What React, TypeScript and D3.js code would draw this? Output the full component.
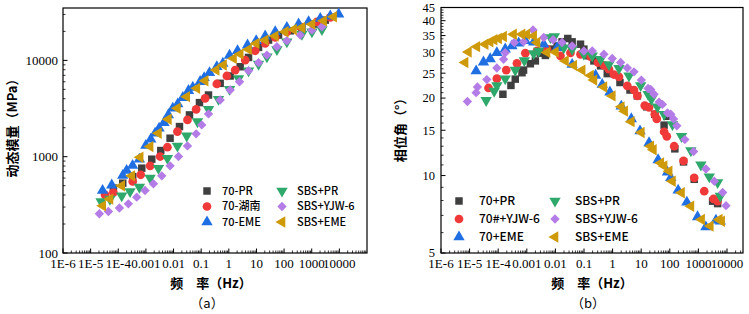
import React from 'react';
import * as d3 from 'd3';

// ---------- Panel (a): dynamic modulus (MPa) vs reduced frequency (Hz) ----------
const modPR_f = [6.65e-5, 1.45e-4, 3.33e-4, 7.1e-4, 1.63e-3, 3.45e-3, 7.5e-3, 0.0164, 0.0377, 0.0867, 0.184, 0.486, 1.12, 2.58, 5.17, 11.9, 27.4, 63, 167, 442, 1170, 3100];
const modPR_v = [472, 531, 622, 760, 942, 1159, 1556, 2055, 2716, 3643, 4370, 5780, 6890, 8590, 10730, 13650, 16250, 18320, 20280, 21970, 23800, 26200];
const modHN_f = [3.32e-5, 6.65e-5, 3.33e-4, 6.5e-4, 1.42e-3, 3.27e-3, 6.0e-3, 0.0138, 0.0319, 0.0658, 0.139, 0.368, 0.849, 1.7, 3.92, 9.0, 20.7, 47.8, 126, 385, 1545, 4700];
const modHN_v = [402, 425, 553, 649, 804, 1004, 1254, 1824, 2411, 3105, 4036, 5690, 6890, 7940, 10070, 12590, 15000, 17300, 19810, 22340, 25170, 27930];
const modEME_f = [2.7e-5, 5.8e-5, 1.45e-4, 2.0e-4, 3.3e-4, 5.8e-4, 9.9e-4, 1.5e-3, 2.15e-3, 3.0e-3, 4.5e-3, 6.5e-3, 9.4e-3, 0.0142, 0.0216, 0.0347, 0.0498, 0.0917, 0.128, 0.2, 0.368, 0.607, 1.06, 2.07, 4.75, 9.8, 20.7, 47.8, 126, 335, 771, 2040, 4700, 9420];
const modEME_v = [446, 507, 638, 719, 810, 942, 1306, 1518, 1753, 1974, 2259, 2716, 3184, 3530, 4106, 4853, 5250, 6010, 6610, 7450, 8590, 9310, 11270, 12590, 14410, 15980, 17870, 19810, 21970, 23800, 25170, 27240, 28800, 30190];
const modSPR_f = [2.38e-5, 5.0e-5, 1.33e-4, 2.67e-4, 5.8e-4, 1.42e-3, 2.84e-3, 6.0e-3, 0.0138, 0.030, 0.0734, 0.184, 0.423, 1.06, 2.24, 5.17, 11.9, 23.9, 55, 126, 442, 1018, 2340];
const modSPR_v = [343, 363, 393, 436, 483, 599, 760, 964, 1294, 1644, 2312, 3105, 3945, 5010, 6500, 7810, 9160, 10910, 13000, 15600, 18740, 19810, 20940];
const modSYJW_f = [2.07e-5, 4.39e-5, 1.1e-4, 2.32e-4, 4.66e-4, 9.3e-4, 1.87e-3, 3.75e-3, 7.5e-3, 0.0151, 0.0319, 0.0658, 0.105, 0.184, 0.486, 1.12, 2.44, 5.17, 11.9, 23.9, 55, 126, 385, 1018, 2340];
const modSYJW_v = [256, 270, 293, 324, 380, 446, 523, 633, 804, 1004, 1294, 1726, 2138, 2780, 3880, 4930, 6010, 7810, 9460, 11350, 13870, 15980, 18320, 20600, 22340];
const modSEME_f = [2.74e-5, 5.0e-5, 1.33e-4, 3.07e-4, 6.2e-4, 1.42e-3, 2.84e-3, 6.5e-3, 0.0138, 0.030, 0.0695, 0.139, 0.348, 0.643, 1.48, 2.58, 5.17, 9.8, 20.7, 47.8, 110, 220, 442, 1018, 2690, 6210];
const modSEME_v = [309, 363, 499, 633, 988, 1274, 1753, 2449, 3184, 4200, 5125, 6150, 7940, 8950, 10490, 11630, 13000, 15000, 16250, 17870, 19810, 20940, 21970, 23800, 25760, 28380];

// ---------- Panel (b): phase angle (°) vs reduced frequency (Hz) ----------
const phPR_f = [1.46e-4, 2.79e-4, 3.95e-4, 6.8e-4, 7.7e-4, 1.33e-3, 1.99e-3, 2.98e-3, 4.46e-3, 7.6e-3, 0.0115, 0.0171, 0.0271, 0.0385, 0.0755, 0.099, 0.148, 0.222, 0.38, 0.65, 1.81, 4.06, 7.35, 15.6, 29.8, 63.2, 78.5, 150, 302, 714, 3140, 4700];
const phPR_v = [20.7, 22.4, 23.7, 25.1, 25.7, 27.2, 27.9, 29.9, 29.3, 31.0, 31.9, 33.1, 34.1, 33.1, 32.4, 31.0, 29.2, 27.9, 26.7, 24.9, 23.0, 21.5, 20.4, 18.5, 17.3, 15.7, 17.0, 12.7, 11.3, 9.67, 7.95, 7.78];
const phYJW_f = [4.58e-5, 8.98e-5, 1.91e-4, 4.52e-4, 8.9e-4, 2.28e-3, 5.1e-3, 0.015, 0.0336, 0.0755, 0.169, 0.306, 0.497, 0.743, 1.11, 1.67, 3.27, 5.6, 7.35, 13.3, 18.8, 29.8, 35, 63.2, 78.5, 142, 302, 714, 1600, 3400, 4700];
const phYJW_v = [21.9, 23.8, 25.7, 27.3, 29.9, 30.5, 31.0, 29.2, 30.0, 29.6, 29.0, 27.5, 26.8, 25.9, 24.7, 24.2, 22.3, 21.5, 20.4, 18.7, 18.4, 17.3, 16.6, 14.8, 14.2, 13.0, 11.4, 9.8, 8.69, 8.11, 7.95];
const phEME_f = [1.69e-5, 3.06e-5, 5.25e-5, 8.98e-5, 1.76e-4, 3.02e-4, 5.2e-4, 8.9e-4, 1.74e-3, 3.9e-3, 0.0115, 0.0385, 0.254, 0.434, 0.805, 2.01, 4.52, 9.1, 18.8, 39, 82.8, 108, 196, 395, 936, 1830, 4110, 5830];
const phEME_v = [25.5, 27.6, 28.4, 30.0, 31.0, 31.9, 32.7, 33.4, 33.0, 32.4, 31.4, 27.0, 24.5, 22.6, 21.1, 18.6, 16.6, 14.9, 13.4, 11.5, 10.3, 9.8, 8.77, 7.87, 6.91, 6.31, 6.70, 6.64];
const phSPR_f = [3.79e-5, 7.24e-5, 8.98e-5, 1.76e-4, 3.95e-4, 8.2e-4, 1.74e-3, 2.6e-3, 6.7e-3, 9.2e-3, 0.0196, 0.0385, 0.099, 0.194, 0.38, 0.743, 1.67, 3.74, 9.6, 17.4, 22.7, 36.9, 63.2, 124, 257, 546, 1220, 2400, 4700, 5830];
const phSPR_v = [19.6, 21.3, 22.4, 23.8, 25.7, 28.0, 29.8, 30.5, 34.4, 34.7, 31.4, 31.0, 29.6, 29.2, 28.3, 27.0, 26.1, 24.4, 22.4, 20.7, 19.8, 18.5, 17.3, 15.8, 14.2, 12.5, 11.0, 9.9, 9.4, 8.32];
const phSYJW_f = [8.4e-6, 1.69e-5, 1.88e-5, 4.0e-5, 8.98e-5, 1.54e-4, 1.76e-4, 3.65e-4, 7.7e-4, 1.65e-3, 3.9e-3, 8.3e-3, 0.0171, 0.0385, 0.099, 0.194, 0.497, 0.973, 1.91, 3.27, 5.6, 10.1, 17.4, 21.5, 28.2, 42.3, 55.2, 82.8, 108, 135, 176, 336, 678, 1830, 3600, 7050, 9230];
const phSYJW_v = [19.4, 21.0, 22.1, 23.6, 26.2, 28.3, 30.0, 32.9, 33.1, 36.8, 34.4, 33.7, 32.9, 31.9, 30.5, 30.5, 29.6, 28.5, 27.5, 26.2, 25.3, 23.5, 21.8, 21.6, 20.7, 19.3, 18.9, 17.5, 17.3, 16.6, 15.6, 13.8, 12.4, 10.6, 9.5, 8.6, 7.64];
const phSEME_f = [6.95e-6, 9.1e-6, 1.79e-5, 3.5e-5, 5.2e-5, 7.2e-5, 1.03e-4, 1.54e-4, 3.45e-4, 6.8e-4, 1.01e-3, 1.74e-3, 2.28e-3, 5.1e-3, 0.01, 0.0225, 0.044, 0.0863, 0.169, 0.222, 0.497, 0.973, 2.01, 2.64, 4.52, 10.1, 21.5, 26.7, 48.3, 63.2, 94.8, 124, 257, 546, 1290, 2600, 5380, 6500];
const phSEME_v = [27.5, 30.2, 31.7, 32.4, 33.1, 33.7, 34.1, 34.7, 35.4, 35.4, 35.4, 34.9, 32.9, 30.1, 30.2, 27.9, 26.8, 25.7, 24.5, 23.5, 22.1, 20.4, 18.5, 17.8, 16.2, 14.7, 13.0, 12.6, 11.2, 10.9, 10.4, 9.5, 8.57, 7.6, 6.75, 6.36, 6.75, 6.64];

// ---------- labels ----------
const namesA = ['70-PR', '70-湖南', '70-EME', 'SBS+PR', 'SBS+YJW-6', 'SBS+EME'];
const namesB = ['70+PR', '70#+YJW-6', '70+EME', 'SBS+PR', 'SBS+YJW-6', 'SBS+EME'];
const xTickVals = [1e-6, 1e-5, 1e-4, 1e-3, 1e-2, 1e-1, 1, 10, 100, 1000, 10000];
const xTickLabels = ['1E-6', '1E-5', '1E-4', '0.001', '0.01', '0.1', '1', '10', '100', '1000', '10000'];
const yTickValsA = [100, 1000, 10000];
const yTickLabelsA = ['100', '1000', '10000'];
const yTickValsB = [5, 10, 15, 20, 25, 30, 35, 40, 45];
const yTickLabelsB = ['5', '10', '15', '20', '25', '30', '35', '40', '45'];

const colors = ['#3f3f3f', '#f03a3a', '#1f6fe3', '#2fa86b', '#b47ce6', '#cf9a0a'];
const shapes = ['square', 'circle', 'up', 'down', 'diamond', 'left'];

const SERIF = '"Liberation Serif", "DejaVu Serif", serif';
const CJK = '"Noto Sans CJK SC", "Noto Sans", sans-serif';

function markerPath(shape: string): { d: string; rot: number } {
  switch (shape) {
    case 'square': return { d: d3.symbol().type(d3.symbolSquare).size(56)() as string, rot: 0 };
    case 'circle': return { d: d3.symbol().type(d3.symbolCircle).size(60)() as string, rot: 0 };
    case 'up': return { d: d3.symbol().type(d3.symbolTriangle).size(56)() as string, rot: 0 };
    case 'down': return { d: d3.symbol().type(d3.symbolTriangle).size(56)() as string, rot: 180 };
    case 'left': return { d: d3.symbol().type(d3.symbolTriangle).size(56)() as string, rot: -90 };
    case 'diamond': return { d: d3.symbol().type(d3.symbolSquare).size(44)() as string, rot: 45 };
  }
  return { d: '', rot: 0 };
}

function logMinor(lo: number, hi: number, maxV: number): number[] {
  const out: number[] = [];
  for (let e = lo; e <= hi; e++) {
    for (let k = 2; k <= 9; k++) {
      const v = k * Math.pow(10, e);
      if (v < maxV) out.push(v);
    }
  }
  return out;
}

type Series = { f: number[]; v: number[] };

function Panel(props: {
  left: number; right: number; top: number; bottom: number;
  x: d3.ScaleLogarithmic<number, number>;
  y: d3.ScaleLogarithmic<number, number>;
  xMinor: number[]; yMajor: number[]; yMajorLabels: string[]; yMinor: number[];
  series: Series[]; names: string[];
  legend: { col1Mark: number; col1Text: number; col2Mark: number; col2Text: number; rows: number[]; font: number };
  yTitle: string; yTitleX: number; yTitleY: number;
  xTitleX: number; panelLabel: string; panelLabelX: number; yLabelRight: number; yFont: number;
}) {
  const { left, right, top, bottom, x, y } = props;
  return (
    <g>
      <rect x={left} y={top} width={right - left} height={bottom - top} fill="none" stroke="#000" strokeWidth={1.2} />
      {xTickVals.map((v, i) => (
        <g key={'xt' + i}>
          <line x1={x(v)} x2={x(v)} y1={bottom} y2={bottom - 4.5} stroke="#000" strokeWidth={1} />
          <text x={x(v)} y={268} textAnchor="middle" fontFamily={SERIF} fontSize={13} fill="#000">{xTickLabels[i]}</text>
        </g>
      ))}
      {props.xMinor.map((v, i) => (
        <line key={'xm' + i} x1={x(v)} x2={x(v)} y1={bottom} y2={bottom - 2.5} stroke="#000" strokeWidth={0.8} />
      ))}
      {props.yMajor.map((v, i) => (
        <g key={'yt' + i}>
          <line x1={left} x2={left + 4.5} y1={y(v)} y2={y(v)} stroke="#000" strokeWidth={1} />
          <text x={props.yLabelRight} y={y(v)} dy="0.35em" textAnchor="end" fontFamily={SERIF} fontSize={props.yFont} fill="#000">{props.yMajorLabels[i]}</text>
        </g>
      ))}
      {props.yMinor.map((v, i) => (
        <line key={'ym' + i} x1={left} x2={left + 2.5} y1={y(v)} y2={y(v)} stroke="#000" strokeWidth={0.8} />
      ))}
      {props.series.map((s, si) => {
        const m = markerPath(shapes[si]);
        return (
          <g key={'s' + si} fill={colors[si]}>
            {s.f.map((f, i) => (
              <path key={i} d={m.d} transform={`translate(${x(f)},${y(s.v[i])}) rotate(${m.rot})`} />
            ))}
          </g>
        );
      })}
      {props.names.map((n, i) => {
        const col = i < 3 ? 0 : 1;
        const row = i % 3;
        const mx = col === 0 ? props.legend.col1Mark : props.legend.col2Mark;
        const tx = col === 0 ? props.legend.col1Text : props.legend.col2Text;
        const ly = props.legend.rows[row];
        const m = markerPath(shapes[i]);
        return (
          <g key={'lg' + i}>
            <path d={m.d} fill={colors[i]} transform={`translate(${mx},${ly}) rotate(${m.rot})`} />
            <text x={tx} y={ly} dy="0.36em" fontFamily={CJK} fontWeight={500} fontSize={props.legend.font} fill="#000">{n}</text>
          </g>
        );
      })}
      <text transform={`translate(${props.yTitleX},${props.yTitleY}) rotate(-90)`} textAnchor="middle" fontFamily={CJK} fontWeight={700} fontSize={13} fill="#000">{props.yTitle}</text>
      <text x={props.xTitleX} y={288} textAnchor="middle" fontFamily={CJK} fontWeight={700} fontSize={13} fill="#000">{'频\u3000率\uFF08Hz\uFF09'}</text>
      <text x={props.panelLabelX} y={308} textAnchor="middle" fontFamily={CJK} fontSize={13} fill="#000">{props.panelLabel}</text>
    </g>
  );
}

export default function App() {
  const xA = d3.scaleLog().domain([1e-6, 1e5]).range([63, 367]);
  const yA = d3.scaleLog().domain([100, 35000]).range([253, 8]);
  const seriesA: Series[] = [
    { f: modPR_f, v: modPR_v }, { f: modHN_f, v: modHN_v }, { f: modEME_f, v: modEME_v },
    { f: modSPR_f, v: modSPR_v }, { f: modSYJW_f, v: modSYJW_v }, { f: modSEME_f, v: modSEME_v },
  ];
  const xB = d3.scaleLog().domain([1e-6, 1e4]).range([441, 727]);
  const rightB = 743;
  const yB = d3.scaleLog().domain([5, 45]).range([253, 7.5]);
  const seriesB: Series[] = [
    { f: phPR_f, v: phPR_v }, { f: phYJW_f, v: phYJW_v }, { f: phEME_f, v: phEME_v },
    { f: phSPR_f, v: phSPR_v }, { f: phSYJW_f, v: phSYJW_v }, { f: phSEME_f, v: phSEME_v },
  ];
  const xBmax = xB.invert(rightB);
  const yMinorB = d3.range(6, 45).filter((v) => v % 5 !== 0);

  return (
    <svg width={749} height={314} style={{ position: 'absolute', left: 0, top: 0, background: '#fff' }}>
      <rect width={749} height={314} fill="#fff" />
      <Panel left={63} right={367} top={8} bottom={253} x={xA} y={yA}
        xMinor={logMinor(-6, 4, 1e5)} yMajor={yTickValsA} yMajorLabels={yTickLabelsA}
        yMinor={logMinor(2, 4, 35000)} series={seriesA} names={namesA}
        legend={{ col1Mark: 207, col1Text: 222, col2Mark: 282, col2Text: 297, rows: [191, 206.5, 222], font: 11 }}
        yTitle={'动态模量\uFF08MPa\uFF09'} yTitleX={17} yTitleY={125}
        xTitleX={211} panelLabel={'\uFF08a\uFF09'} panelLabelX={207} yLabelRight={58} yFont={13} />
      <Panel left={441} right={rightB} top={7.5} bottom={253} x={xB} y={yB}
        xMinor={logMinor(-6, 4, xBmax)} yMajor={yTickValsB} yMajorLabels={yTickLabelsB}
        yMinor={yMinorB} series={seriesB} names={namesB}
        legend={{ col1Mark: 459, col1Text: 479, col2Mark: 555, col2Text: 575, rows: [201, 219, 237], font: 12 }}
        yTitle={'相位角\uFF08°\uFF09'} yTitleX={405} yTitleY={127}
        xTitleX={592} panelLabel={'\uFF08b\uFF09'} panelLabelX={588} yLabelRight={435} yFont={12.5} />
    </svg>
  );
}
